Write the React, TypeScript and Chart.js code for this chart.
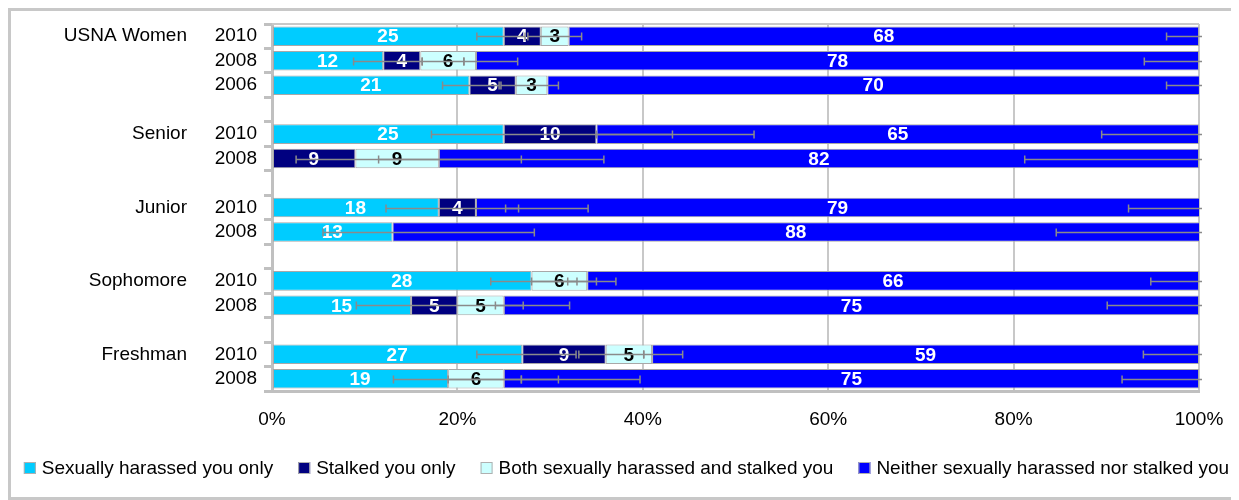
import React, { useEffect, useRef } from 'react';
import { Chart, registerables } from 'chart.js';

Chart.register(...registerables);

const FONT = '"Liberation Sans", Arial, Helvetica, sans-serif';

// ---- data ----
const groupNames = ['USNA Women', 'Senior', 'Junior', 'Sophomore', 'Freshman'];
const groupYears = [
  ['2010', '2008', '2006'],
  ['2010', '2008'],
  ['2010', '2008'],
  ['2010', '2008'],
  ['2010', '2008'],
];
const seriesNames = [
  'Sexually harassed you only',
  'Stalked you only',
  'Both sexually harassed and stalked you',
  'Neither sexually harassed nor stalked you',
];
const harassedOnly = [25, 12, 21.3, 25, 0, 18, 13, 28, 15, 27, 19];
const stalkedOnly = [4, 4, 5, 10, 9, 4, 0, 0, 5, 9, 0];
const bothHarassedStalked = [3, 6, 3.4, 0, 9, 0, 0, 6, 5, 5, 6];
const neitherHarassedStalked = [68, 78, 70.4, 65, 82, 79, 88, 66, 75, 59, 75];

// error bar ranges [low, high] in percent, per row (null = none)
type Rng = [number, number] | null;
const errHarassed: Rng[] = [[22.1, 27.3], [8.8, 16.2], [18.4, 24.5], [17.2, 43.2], null, [12.3, 26.6], [5.5, 28.3], [23.6, 32.9], [9.1, 27.1], [22.1, 32.8], [13.1, 26.9]];
const errStalked: Rng[] = [[27.6, 33.4], [16.2, 20.7], [24.7, 30.9], [35, 52.0], [2.6, 26.9], [25.2, 34.1], null, [28, 35.0], null, [33.1, 40.1], [19, 30.9]];
const errBoth: Rng[] = [null, [20.7, 26.5], null, null, [11.5, 35.8], null, null, [31.9, 37.1], [24.1, 32.1], [40.1, 44.3], [26.9, 39.7]];
const errNeither: Rng[] = [[96.5, 103.5], [94.1, 105.9], [96.5, 103.5], [89.5, 110.5], [81.2, 118.8], [92.4, 107.6], [84.6, 115.4], [94.8, 105.2], [90.1, 109.9], [94.0, 106.0], [91.7, 108.3]];

const xTickLabels = ['0%', '20%', '40%', '60%', '80%', '100%'];

const seriesColors = ['#00CCFF', '#000080', '#CCFFFF', '#0000FF'];
const labelColors = ['#FFFFFF', '#FFFFFF', '#000000', '#FFFFFF'];

// ---- build slots (rows + gaps) ----
const slotLabels: string[] = [];
const slotRow: number[] = [];
const groupSlots: number[] = [];
{
  let r = 0;
  groupYears.forEach((years, g) => {
    if (g > 0) {
      slotLabels.push('');
      slotRow.push(-1);
    }
    groupSlots.push(slotLabels.length);
    years.forEach((y) => {
      slotLabels.push(y);
      slotRow.push(r++);
    });
  });
}
const padRows = (arr: number[]) => slotRow.map((i) => (i < 0 ? null : arr[i]));
const seriesValues = [harassedOnly, stalkedOnly, bothHarassedStalked, neitherHarassedStalked];
const seriesErrors = [errHarassed, errStalked, errBoth, errNeither];

const overlayPlugin = {
  id: 'overlay',
  afterDatasetsDraw(chart: any) {
    const { ctx, chartArea } = chart;
    const x = chart.scales.x;
    const y = chart.scales.y;
    ctx.save();
    // top border of plot area
    ctx.strokeStyle = '#c8c8c8';
    ctx.lineWidth = 2;
    ctx.beginPath();
    ctx.moveTo(chartArea.left, chartArea.top);
    ctx.lineTo(chartArea.right, chartArea.top);
    ctx.stroke();

    // value labels
    ctx.font = `bold 19px ${FONT}`;
    ctx.textAlign = 'center';
    ctx.textBaseline = 'middle';
    slotRow.forEach((ri, slot) => {
      if (ri < 0) return;
      let cum = 0;
      seriesValues.forEach((vals, k) => {
        const v = vals[ri];
        const start = cum;
        cum += v;
        if (v > 0) {
          const a = Math.min(start, 100);
          const b = Math.min(cum, 100);
          ctx.fillStyle = labelColors[k];
          ctx.fillText(String(Math.round(v)), x.getPixelForValue((a + b) / 2), y.getPixelForValue(slot) + 1);
        }
      });
    });

    // error bars
    ctx.beginPath();
    ctx.rect(chartArea.left, chartArea.top - 10, chartArea.right - chartArea.left + 3, chartArea.bottom - chartArea.top + 20);
    ctx.clip();
    ctx.strokeStyle = '#8a8a8a';
    ctx.lineWidth = 1.5;
    slotRow.forEach((ri, slot) => {
      if (ri < 0) return;
      const py = Math.round(y.getPixelForValue(slot)) + 0.5;
      seriesErrors.forEach((errs) => {
        const e = errs[ri];
        if (!e) return;
        const x0 = x.getPixelForValue(e[0]);
        const x1 = x.getPixelForValue(e[1]);
        ctx.beginPath();
        ctx.moveTo(x0, py);
        ctx.lineTo(x1, py);
        ctx.moveTo(x0, py - 4);
        ctx.lineTo(x0, py + 4);
        ctx.moveTo(x1, py - 4);
        ctx.lineTo(x1, py + 4);
        ctx.stroke();
      });
    });
    ctx.restore();
  },
  afterDraw(chart: any) {
    const { ctx, chartArea } = chart;
    const y = chart.scales.y;
    ctx.save();
    ctx.font = `19px ${FONT}`;
    ctx.fillStyle = '#000';
    ctx.textAlign = 'right';
    ctx.textBaseline = 'middle';
    groupNames.forEach((name, g) => {
      ctx.fillText(name, chartArea.left - 85, y.getPixelForValue(groupSlots[g]));
    });

    // legend
    ctx.textAlign = 'left';
    const widths = seriesNames.map((n) => ctx.measureText(n).width);
    const boxToText = 18;
    const gap = 25;
    const total = widths.reduce((s, w) => s + w + boxToText, 0) + gap * (seriesNames.length - 1);
    let lx = (chart.width - total) / 2 + 3;
    const ly = chartArea.bottom + 77;
    seriesNames.forEach((n, k) => {
      ctx.fillStyle = seriesColors[k];
      ctx.fillRect(lx, ly - 6, 12, 12);
      ctx.strokeStyle = '#b0b0b0';
      ctx.lineWidth = 1;
      ctx.strokeRect(lx + 0.5, ly - 5.5, 11, 11);
      ctx.fillStyle = '#000';
      ctx.fillText(n, lx + boxToText, ly + 1);
      lx += boxToText + widths[k] + gap;
    });
    ctx.restore();
  },
};

export default function App() {
  const ref = useRef<HTMLCanvasElement | null>(null);
  useEffect(() => {
    document.body.style.overflow = 'hidden';
    if (!ref.current) return;
    Chart.defaults.font.family = FONT;
    Chart.defaults.font.size = 19;
    Chart.defaults.color = '#000';
    const chart = new Chart(ref.current, {
      type: 'bar',
      data: {
        labels: slotLabels,
        datasets: seriesNames.map((name, k) => ({
          label: name,
          data: padRows(seriesValues[k]),
          backgroundColor: seriesColors[k],
          borderColor: '#a8a8a8',
          borderWidth: 1,
          borderSkipped: false,
          barPercentage: 0.8,
          categoryPercentage: 1.0,
        })),
      },
      options: {
        indexAxis: 'y',
        animation: false,
        responsive: false,
        layout: { padding: { top: 13, bottom: 58.5, left: 0, right: 0 } },
        scales: {
          x: {
            stacked: true,
            min: 0,
            max: 100,
            ticks: {
              stepSize: 20,
              padding: 17.6,
              color: '#000',
              font: { size: 19 },
              callback: (_v: any, i: number) => xTickLabels[i],
            },
            grid: { color: '#c8c8c8', lineWidth: 2, drawTicks: false },
            border: { display: true, color: '#c0c0c0', width: 3 },
            afterFit: (s: any) => {
              s.height = 47.5;
              s.paddingLeft = 0;
              s.paddingRight = 0;
            },
          },
          y: {
            stacked: true,
            ticks: { padding: 7, color: '#000', font: { size: 19 }, autoSkip: false },
            grid: { drawOnChartArea: false, drawTicks: true, tickLength: 8, color: '#c0c0c0', lineWidth: 3 },
            border: { display: true, color: '#c0c0c0', width: 3 },
            afterFit: (s: any) => {
              s.width = 261;
              s.paddingTop = 0;
              s.paddingBottom = 0;
            },
          },
          yR: {
            type: 'linear',
            position: 'right',
            display: true,
            grid: { display: false },
            ticks: { display: false },
            border: { display: false },
            afterFit: (s: any) => {
              s.width = 37;
              s.paddingTop = 0;
              s.paddingBottom = 0;
            },
          },
        },
        plugins: {
          legend: { display: false },
          tooltip: { enabled: false },
        },
      } as any,
      plugins: [overlayPlugin],
    });
    return () => chart.destroy();
  }, []);

  return (
    <div
      style={{
        width: 1231,
        height: 492,
        boxSizing: 'border-box',
        border: '3px solid #c8c8c8',
        background: '#fff',
      }}
    >
      <canvas ref={ref} width={1225} height={486} style={{ display: 'block' }} />
    </div>
  );
}
